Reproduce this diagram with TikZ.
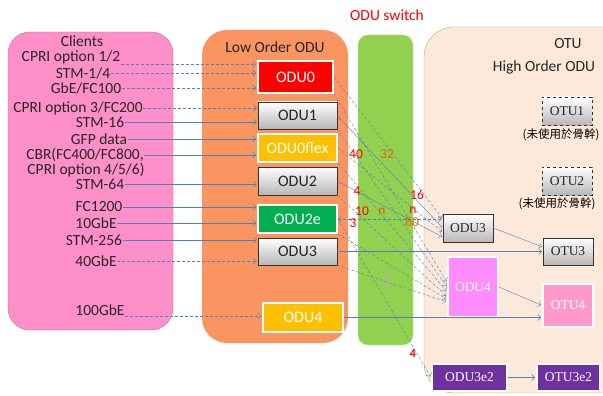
\documentclass[tikz,border=0pt]{standalone}
\usepackage{fontspec}
\setmainfont{Carlito}
\newfontfamily\cjkfont{Noto Sans CJK TC}
\newfontfamily\otufont{Liberation Serif}
\usetikzlibrary{arrows.meta,shadows}
\definecolor{linkblue}{RGB}{79,129,189}
\definecolor{clientpink}{RGB}{255,143,200}
\definecolor{clientline}{RGB}{205,105,125}
\definecolor{loworange}{RGB}{250,148,96}
\definecolor{switchgreen}{RGB}{146,208,80}
\definecolor{switchline}{RGB}{200,225,165}
\definecolor{otupeach}{RGB}{253,233,217}
\definecolor{otuline}{RGB}{160,190,100}
\definecolor{odured}{RGB}{255,0,0}
\definecolor{oduyellow}{RGB}{255,192,0}
\definecolor{odugreen}{RGB}{0,176,80}
\definecolor{odupurple}{RGB}{112,48,160}
\definecolor{odupink}{RGB}{255,140,255}
\definecolor{otupink}{RGB}{255,153,204}
\definecolor{numorange}{RGB}{228,108,10}
\tikzset{
  client/.style={font=\fontsize{15.5}{15.5}\selectfont, text=black!85, inner sep=0.5pt},
  graybox/.style={draw=black!80, top color=white, bottom color=black!28, inner sep=0pt, text=black!85},
  lobox/.style={graybox, font=\fontsize{16}{16}\selectfont},
  colbox/.style={draw=white, line width=2pt, text=white, inner sep=0pt,
    drop shadow={opacity=0.25, shadow xshift=1pt, shadow yshift=-1pt}},
  locol/.style={colbox, font=\fontsize{16}{16}\selectfont},
  hibox/.style={graybox, font=\otufont\fontsize{13.5}{13.5}\selectfont},
  hicol/.style={colbox, font=\otufont\fontsize{13.5}{13.5}\selectfont},
  link/.style={linkblue, ->, shorten >=1pt},
  dlink/.style={link, dash pattern=on 3pt off 2pt},
  num/.style={font=\fontsize{13.5}{13.5}\selectfont, text=red, inner sep=0pt}
}
\begin{document}
\begin{tikzpicture}[x=1pt, y=-1pt, >={Straight Barb[length=3pt,width=6pt]}]
\clip (0,0) rectangle (603,396);
\fill[white] (0,0) rectangle (603,396);
\draw[clientline, fill=clientpink, rounded corners=22pt] (8,32) rectangle (173,330);
\fill[loworange, rounded corners=25pt] (202,30) rectangle (348,343);
\draw[switchline, fill=switchgreen, rounded corners=10pt] (358,35) rectangle (413,345);
\draw[otuline, fill=otupeach, rounded corners=30pt] (424,27) rectangle (650,393);
\node[client] (clients) at (82,41) {Clients};
\node[client] (cpri12) at (71,57) {CPRI option 1/2};
\node[client] (stm14) at (83,73) {STM-1/4};
\node[client] (gbe) at (86,88) {GbE/FC100};
\node[client] (cpri3) at (78,108) {CPRI option 3/FC200};
\node[client] (stm16) at (100,122) {STM-16};
\node[client] (gfp) at (99,139) {GFP data};
\node[client] (cbr) at (85,155) {CBR(FC400/FC800,};
\node[client] (cpri456) at (86,170) {CPRI option 4/5/6)};
\node[client] (stm64) at (100,184) {STM-64};
\node[client] (fc1200) at (99,207) {FC1200};
\node[client] (tengbe) at (96,223) {10GbE};
\node[client] (stm256) at (94,240) {STM-256};
\node[client] (fortygbe) at (96,261) {40GbE};
\node[client] (hundredgbe) at (100,310) {100GbE};
\node[client] (lowlabel) at (275,47) {Low Order ODU};
\node[client, text=red] (switchlabel) at (387,15) {ODU switch};
\node[client] (otulabel) at (568,44) {OTU};
\node[client] (hilabel) at (544,67) {High Order ODU};
\node[locol, fill=odured, minimum width=75pt, minimum height=32pt] (odu0) at (295.5,77) {ODU0};
\node[lobox, minimum width=79pt, minimum height=27pt] (odu1) at (297.5,115.5) {ODU1};
\node[locol, fill=oduyellow, minimum width=79pt, minimum height=28pt] (oduflex) at (297.5,148) {ODU0flex};
\node[lobox, minimum width=79pt, minimum height=28pt] (odu2) at (297.5,181) {ODU2};
\node[locol, fill=odugreen, minimum width=79pt, minimum height=28pt] (odu2e) at (297.5,219) {ODU2e};
\node[lobox, minimum width=79pt, minimum height=27pt] (odu3) at (297.5,251.5) {ODU3};
\node[locol, fill=oduyellow, minimum width=80pt, minimum height=29pt] (odu4) at (303,317.5) {ODU4};
\node[hibox, minimum width=50pt, minimum height=28pt] (hodu3) at (468,228) {ODU3};
\node[hibox, dashed, minimum width=50pt, minimum height=28pt] (otu1) at (567,111) {OTU1};
\node[hibox, dashed, minimum width=50pt, minimum height=28pt] (otu2) at (567,181) {OTU2};
\node[hibox, minimum width=50pt, minimum height=27pt] (otu3) at (568,251.5) {OTU3};
\node[hicol, fill=odupink, minimum width=50pt, minimum height=60pt] (hodu4) at (473,287) {ODU4};
\node[hicol, fill=otupink, minimum width=50pt, minimum height=43pt] (otu4) at (568,305.5) {OTU4};
\node[hicol, fill=odupurple, minimum width=75pt, minimum height=27pt] (odu3e2) at (469.5,377.5) {ODU3e2};
\node[hicol, fill=odupurple, minimum width=63pt, minimum height=27pt] (otu3e2) at (568.5,377.5) {OTU3e2};
\node[font=\cjkfont\fontsize{11.5}{11.5}\selectfont, inner sep=0pt] (note1) at (561,135) {(未使用於骨幹)};
\node[font=\cjkfont\fontsize{11.5}{11.5}\selectfont, inner sep=0pt] (note2) at (557,204) {(未使用於骨幹)};
\draw[dlink] (cpri12.south east) -- (cpri12.south east -| odu0.west);
\draw[dlink] (stm14.east) -- (stm14.east -| odu0.west);
\draw[dlink] (gbe.east) -- (gbe.east -| odu0.west);
\draw[dlink] (cpri3.east) -- (cpri3.east -| odu1.west);
\draw[link] (stm16.east) -- (stm16.east -| odu1.west);
\draw[link] (gfp.east) -- (gfp.east -| oduflex.west);
\draw[link] (cbr.east) -- (cbr.east -| oduflex.west);
\draw[link] (stm64.east) -- (stm64.east -| odu2.west);
\draw[link] (fc1200.east) -- (fc1200.east -| odu2e.west);
\draw[link] (tengbe.east) -- (tengbe.east -| odu2e.west);
\draw[link] (stm256.east) -- (stm256.east -| odu3.west);
\draw[dlink] (fortygbe.east) -- (fortygbe.east -| odu3.west);
\draw[dlink] (hundredgbe.south east) -- (hundredgbe.south east -| odu4.west);
\draw[dlink] (odu0.east) -- (hodu3.160);
\draw[dlink] (odu0.south east) -- (hodu4.170);
\draw[link] (odu1.east) -- (hodu3.west);
\draw[dlink] (odu1.south east) -- (hodu4.180);
\draw[dlink] (oduflex.east) -- (hodu3.190);
\draw[dlink] (oduflex.south east) -- (hodu4.190);
\draw[link] (odu2.east) -- (hodu3.200);
\draw[dlink] (odu2.south east) -- (hodu4.200);
\draw[dlink, <->] (odu2e.east) -- (odu2e.east -| hodu3.west);
\draw[dlink] (odu2e.south east) -- (hodu4.205);
\draw[dlink] (odu2e.east) -- (odu3e2.west);
\draw[dlink] (odu3.south east) -- (hodu4.210);
\draw[link] (odu3.east) -- (odu3.east -| otu3.west);
\draw[link] (odu4.east) -- (odu4.east -| otu4.west);
\draw[link] (hodu3.east) -- (otu3.170);
\draw[link] (hodu4.east) -- (otu4.west);
\draw[link] (odu3e2.east) -- (otu3e2.west);
\node[num] (n40) at (356,154) {40};
\node[num, text=numorange] (n32) at (387,154) {32};
\node[num] (n16) at (417,195) {16};
\node[num] (nn1) at (413,210) {n};
\node[num] (n4) at (357,191) {4};
\node[num] (n10) at (362,211) {10};
\node[num, text=numorange!80!red] (nn2) at (382,211) {n};
\node[num] (n3) at (353,223) {3};
\node[num, text=numorange] (n80) at (412,222) {80};
\node[num, text=black!30, font=\fontsize{15}{15}\selectfont] (n2) at (387,282) {2};
\node[num, font=\bfseries\fontsize{12}{12}\selectfont] (n4b) at (413,354) {4};
\end{tikzpicture}
\end{document}
